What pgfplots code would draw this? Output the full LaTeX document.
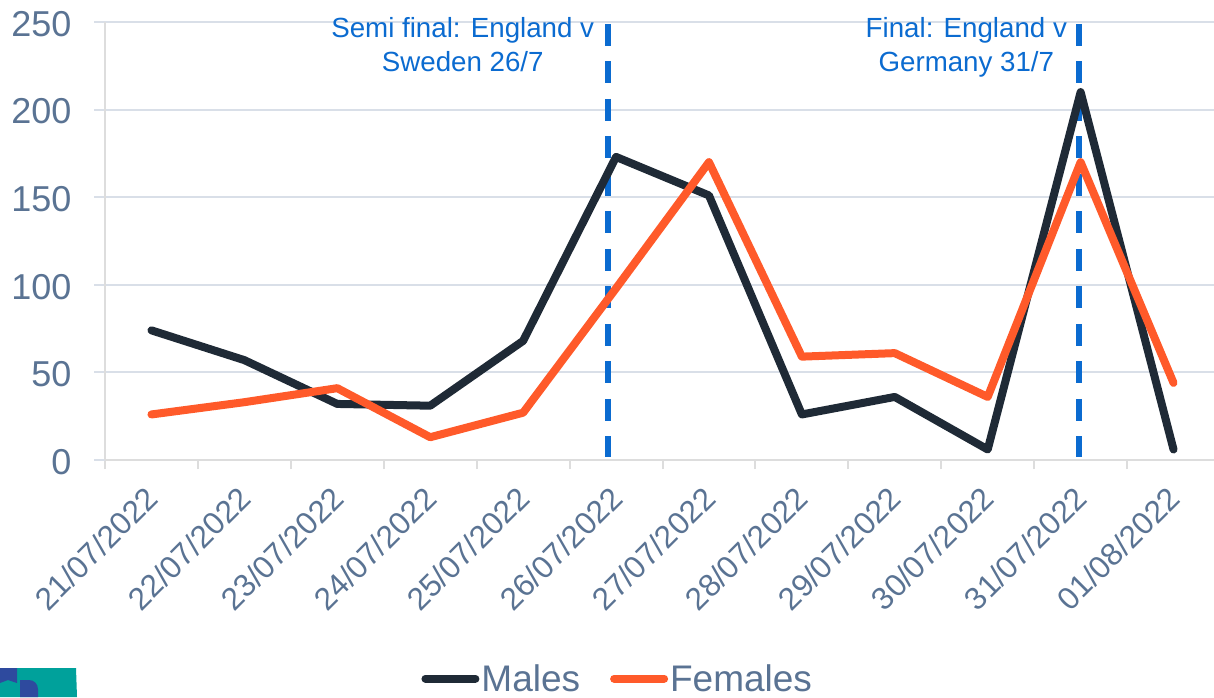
\documentclass[border=0pt]{standalone}
\usepackage{pgfplots}
\pgfplotsset{compat=1.18}
\usepackage{fontspec}
\setmainfont{Liberation Sans}
\definecolor{txt}{HTML}{5A7393}
\definecolor{males}{HTML}{1F2A36}
\definecolor{females}{HTML}{FF5A2A}
\definecolor{note}{HTML}{0B6BD0}
\definecolor{gridc}{HTML}{D9DFE8}
\definecolor{axc}{HTML}{DDDDDD}
\definecolor{logoT}{HTML}{00A19B}
\definecolor{logoB}{HTML}{2E4A9E}
\begin{document}
\begin{tikzpicture}[x=1pt,y=1pt]
\path[use as bounding box] (0,0) rectangle (1214,697);
\fill[logoT] (0,0) -- (77,0) -- (76,29) -- (0,29) -- cycle;
\fill[logoB] (0,14) -- (8,17) -- (17,14) -- (17,29) -- (0,29) -- cycle;
\fill[logoB] (20,0) -- (38,0) -- (38,8) arc (0:90:9) -- (20,17) -- cycle;
\begin{axis}[
  at={(105pt,237pt)}, anchor=south west,
  scale only axis, width=1115pt, height=438pt,
  xmin=0, xmax=12, ymin=0, ymax=250,
  axis x line*=bottom, axis y line*=left,
  axis line style={axc,line width=2pt,-},
  clip=false,
  xtick={0.5,1.5,2.5,3.5,4.5,5.5,6.5,7.5,8.5,9.5,10.5,11.5},
  xticklabels={21/07/2022,22/07/2022,23/07/2022,24/07/2022,25/07/2022,26/07/2022,27/07/2022,28/07/2022,29/07/2022,30/07/2022,31/07/2022,01/08/2022},
  minor xtick={0,1,...,12},
  ytick={0,50,100,150,200,250},
  ymajorgrids, grid style={gridc,line width=2pt},
  major x tick style={draw=none},
  tick align=outside,
  minor tick length=9pt, major tick length=11pt,
  minor tick style={axc,line width=2pt},
  y tick style={gridc,line width=2pt},
  x tick label style={rotate=45,anchor=north east,font=\fontsize{31.5}{34}\selectfont,text=txt,xshift=-11.4pt,yshift=-0.6pt},
  y tick label style={font=\fontsize{36}{40}\selectfont,text=txt,xshift=-19pt,yshift=-2pt},
  /pgf/number format/assume math mode=true,
  legend columns=2,
  legend style={draw=none,fill=none,at={(0.2838,-0.536)},anchor=south west,
    font=\fontsize{37}{38}\selectfont,text=txt,inner sep=0pt,outer sep=0pt,
    /tikz/every even column/.append style={column sep=28pt}},
  legend cell align=left,
  legend image code/.code={\draw[#1,line width=8pt,line cap=round] (0pt,0pt) -- (50pt,0pt);},
]
\addplot[note,line width=6pt,dash pattern=on 22pt off 15.5pt,forget plot] coordinates {(5.41,249) (5.41,2)};
\addplot[note,line width=6pt,dash pattern=on 22pt off 15.5pt,forget plot] coordinates {(10.48,249) (10.48,2)};
\addplot[males,line width=8pt,line join=round,line cap=round] coordinates {(0.5,74) (1.5,57) (2.5,32) (3.5,31) (4.5,68) (5.5,173) (6.5,151) (7.5,26) (8.5,36) (9.5,6) (10.5,210) (11.5,6)};
\addlegendentry{Males}
\addplot[females,line width=8pt,line join=round,line cap=round] coordinates {(0.5,26) (1.5,33) (2.5,41) (3.5,13) (4.5,27) (5.5,98) (6.5,170) (7.5,59) (8.5,61) (9.5,36) (10.5,170) (11.5,44)};
\addlegendentry{Females}
\node[font=\fontsize{27.7}{34}\selectfont,text=note,align=center,inner sep=1pt] at (axis cs:3.85,237) {Semi final: England v\\Sweden 26/7};
\node[font=\fontsize{27.7}{34}\selectfont,text=note,align=center,inner sep=1pt] at (axis cs:9.27,235.3) {Final: England v\\Germany 31/7};
\end{axis}
\end{tikzpicture}
\end{document}
